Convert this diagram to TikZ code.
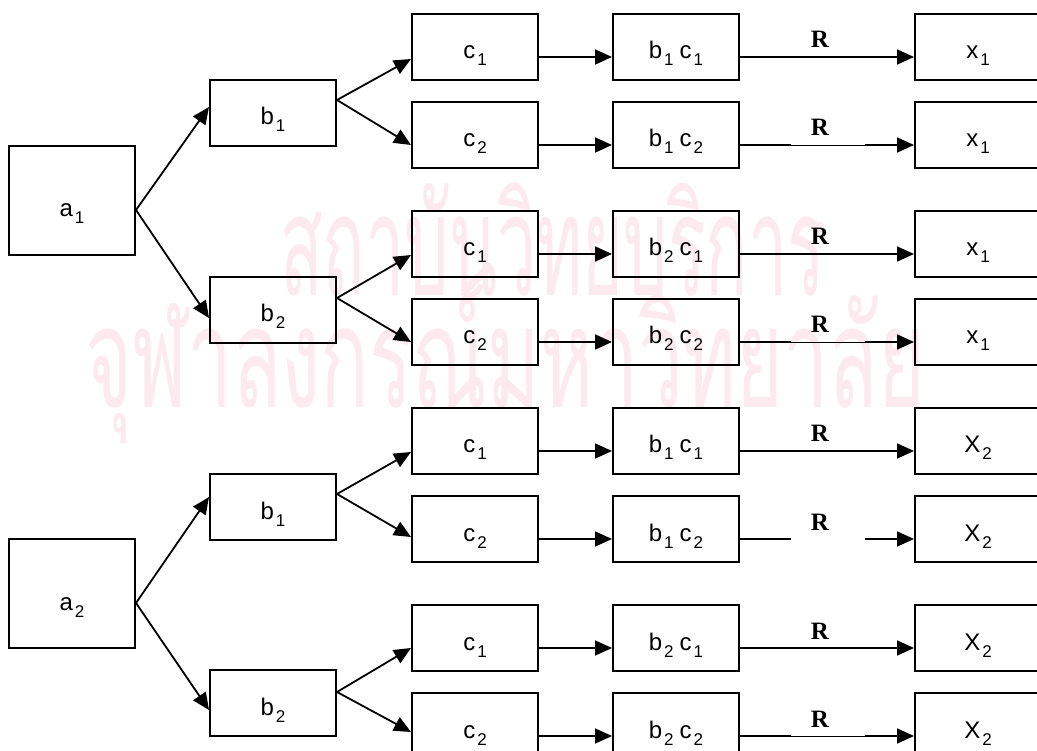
\documentclass[tikz,border=0pt]{standalone}
\usepackage{fontspec}
\usepackage{graphicx}
\setmainfont{Liberation Sans}
\newfontfamily\rfont{Liberation Serif}
\newfontfamily\thaifont[Script=Thai]{Loma}
\usetikzlibrary{arrows.meta,calc}
\definecolor{wm}{RGB}{252,234,239}
\newcommand{\sbx}[1]{\kern2pt\raisebox{-7pt}{\fontsize{17}{17}\selectfont #1}}
\begin{document}
\begin{tikzpicture}[x=1pt,y=-1pt,
  box/.style={draw, line width=2pt, inner sep=0pt, minimum width=126pt,
    minimum height=66pt, text height=45pt, text depth=21pt, anchor=north west,
    font=\fontsize{24}{24}\selectfont},
  abox/.style={box, minimum height=109pt, text height=71pt, text depth=38pt},
  arr/.style={line width=1.8pt, -{Triangle[length=17pt,width=15pt]}},
  seg/.style={line width=1.8pt},
  thinseg/.style={line width=0.9pt},
  rlab/.style={anchor=base, inner sep=0pt, font=\rfont\bfseries\fontsize{25}{25}\selectfont},
  wmtext/.style={anchor=base west, inner sep=0pt, text=wm, font=\thaifont\fontsize{140}{140}\selectfont}]
\useasboundingbox (0,0) rectangle (1037,751);
\clip (0,0) rectangle (1037,751);
\fill[white] (0,0) rectangle (1037,751);
% watermark
\node[wmtext] (wm1) at (280,296) {\resizebox{545pt}{\height}{สถาบันวิทยบริการ}};
\node[wmtext] (wm2) at (85,408) {\resizebox{840pt}{\height}{จุฬาลงกรณ์มหาวิทยาลัย}};
% a and b columns
\node[abox] (a1) at (8,145) {a\sbx{1}};
\node[abox] (a2) at (8,538) {a\sbx{2}};
\node[box] (b11) at (209,79) {b\sbx{1}};
\node[box] (b12) at (209,276) {b\sbx{2}};
\node[box] (b21) at (209,473) {b\sbx{1}};
\node[box] (b22) at (209,669) {b\sbx{2}};
% rows
\foreach \i/\t/\bb/\cc/\xx/\xn in {1/13/1/1/x/1, 2/101/1/2/x/1, 3/210/2/1/x/1, 4/298/2/2/x/1,
    5/407/1/1/X/2, 6/495/1/2/X/2, 7/604/2/1/X/2, 8/692/2/2/X/2} {
  \node[box] (c\i) at (411,\t) {c\sbx{\cc}};
  \node[box] (d\i) at (612,\t) {b\sbx{\bb}\hspace{6pt}c\sbx{\cc}};
  \node[box] (e\i) at (914,\t) {\xx\sbx{\xn}};
  \draw[arr] ($(c\i.north east)+(0,44)$) -- ($(d\i.north west)+(0,44)$);
  \node[rlab] (R\i) at ($(d\i.north east)+(80,35)$) {R};
}
% a -> b
\draw[arr] ($(a1.north east)+(0,65)$) -- ($(b11.north west)+(0,28)$);
\draw[arr] ($(a1.north east)+(0,65)$) -- ($(b12.north west)+(0,42)$);
\draw[arr] ($(a2.north east)+(0,65)$) -- ($(b21.north west)+(0,24)$);
\draw[arr] ($(a2.north east)+(0,65)$) -- ($(b22.north west)+(0,41)$);
% b -> c
\draw[arr] ($(b11.north east)+(0,21)$) -- ($(c1.north west)+(0,46)$);
\draw[arr] ($(b11.north east)+(0,21)$) -- ($(c2.north west)+(0,44)$);
\draw[arr] ($(b12.north east)+(0,22)$) -- ($(c3.north west)+(0,45)$);
\draw[arr] ($(b12.north east)+(0,22)$) -- ($(c4.north west)+(0,44)$);
\draw[arr] ($(b21.north east)+(0,21)$) -- ($(c5.north west)+(0,45)$);
\draw[arr] ($(b21.north east)+(0,21)$) -- ($(c6.north west)+(0,42)$);
\draw[arr] ($(b22.north east)+(0,23)$) -- ($(c7.north west)+(0,44)$);
\draw[arr] ($(b22.north east)+(0,23)$) -- ($(c8.north west)+(0,40)$);
% R connectors
\foreach \i in {1,3,5,7} {
  \draw[arr] ($(d\i.north east)+(0,44)$) -- ($(e\i.north west)+(0,44)$);
}
\foreach \i in {2,4,6,8} {
  \coordinate (g\i a) at ($(d\i.north east)+(51,44)$);
  \coordinate (g\i b) at ($(e\i.north west)+(-49,44)$);
  \draw[seg] ($(d\i.north east)+(0,44)$) -- (g\i a);
  \draw[arr] (g\i b) -- ($(e\i.north west)+(0,44)$);
}
\foreach \i in {2,4,8} {
  \draw[thinseg] (g\i a) -- (g\i b);
}
\end{tikzpicture}
\end{document}
